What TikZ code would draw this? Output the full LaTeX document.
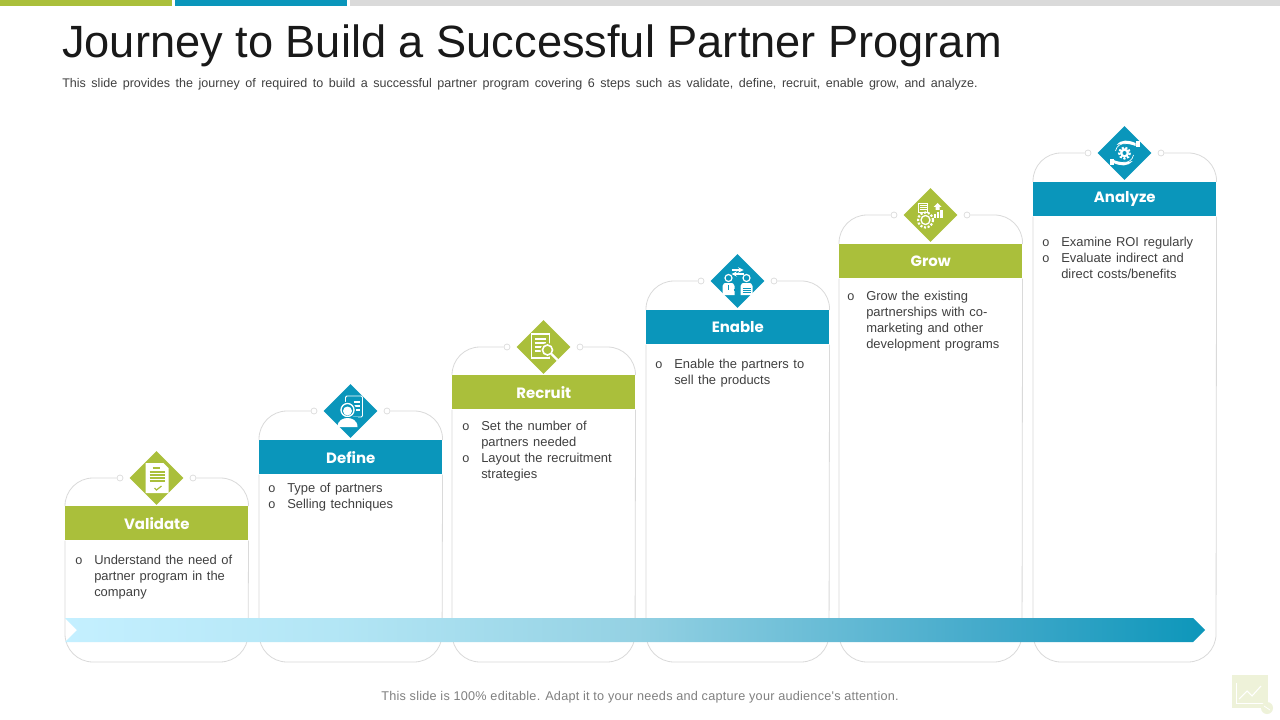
\documentclass[tikz,border=0pt]{standalone}
\usepackage{fontspec}
\setmainfont{Liberation Sans}
\newfontfamily\labelfont{Poppins}
\newfontfamily\bodyfont[WordSpace=1.25]{Liberation Sans}
\newfontfamily\footfont[LetterSpace=1.9]{Liberation Sans}
\usetikzlibrary{shapes.geometric,calc}
\definecolor{pgreen}{HTML}{AABF3B}
\definecolor{pblue}{HTML}{0A96BB}
\definecolor{cardgray}{HTML}{DADADA}
\definecolor{bodytext}{HTML}{404040}
\definecolor{logotint}{HTML}{EEF2D9}
\pgfdeclarehorizontalshading{flowband}{100bp}{rgb(0bp)=(0.77,0.94,1);rgb(25bp)=(0.77,0.94,1);rgb(37bp)=(0.70,0.90,0.96);rgb(50bp)=(0.58,0.82,0.89);rgb(66bp)=(0.25,0.66,0.79);rgb(75bp)=(0.05,0.59,0.73);rgb(100bp)=(0.05,0.59,0.73)}
\tikzset{
  x=0.75pt,y=-0.75pt,
  header/.style={minimum width=137.25pt,minimum height=25.5pt,inner sep=0pt,text=white,font=\labelfont\bfseries\fontsize{11.2}{14}\selectfont},
  badge/.style={diamond,aspect=1,minimum width=40.5pt,minimum height=40.5pt,inner sep=0pt},
  knob/.style={circle,draw=cardgray,fill=white,line width=0.5pt,minimum size=4.5pt,inner sep=0pt},
  cardline/.style={draw=cardgray,line width=0.6pt,rounded corners=21pt},
  bodytxt/.style={anchor=north west,inner sep=0pt,align=left,text=bodytext,font=\bodyfont\fontsize{9.7}{12}\selectfont},
  bulletmark/.style={anchor=center,inner sep=0pt,text=bodytext,font=\fontsize{9.5}{12}\selectfont},
  ico/.style={fill=white,draw=none},
}
\newcommand{\pcard}[6]{% id, left, header top, colour, label, badge y
  \node[header,fill=#4,anchor=north west] (h#1) at (#2,#3) {#5};
  \node[badge,fill=#4] (d#1) at (#2+91.5,#6) {};
  \node[knob] (kl#1) at (#2+55,#6) {};
  \node[knob] (kr#1) at (#2+128,#6) {};
  \coordinate (bl#1) at (#2,662);
  \coordinate (br#1) at (#2+183,662);
  \draw[cardline] (h#1.north west) |- (kl#1.west);
  \draw[cardline] (h#1.north east) |- (kr#1.east);
  \draw[cardline] (h#1.south west) -- (bl#1) -- (br#1) -- (h#1.south east);
}
\begin{document}
\begin{tikzpicture}
\useasboundingbox (0,0) rectangle (1280,720);
\fill[white] (0,0) rectangle (1280,720);
% top bars
\fill[pgreen] (0,0) rectangle (172,6);
\fill[pblue] (175,0) rectangle (347,6);
\fill[cardgray] (350,0) rectangle (1280,6);
% title
\node[anchor=base west,inner sep=0pt,text=black!90,font=\fontsize{33.9}{38}\selectfont] (title) at (62,58) {Journey to Build a Successful Partner Program};
\node[anchor=base west,inner sep=0pt,text=bodytext,font=\fontsize{9.4}{11}\selectfont] (sub) at (62,88) {\spaceskip=4.16pt This slide provides the journey of required to build a successful partner program covering 6 steps such as validate, define, recruit, enable grow, and analyze.};
% cards
\pcard{1}{65}{506}{pgreen}{Validate}{478}
\pcard{2}{259}{440}{pblue}{Define}{411}
\pcard{3}{452}{375}{pgreen}{Recruit}{347}
\pcard{4}{646}{310}{pblue}{Enable}{281}
\pcard{5}{839}{244}{pgreen}{Grow}{215}
\pcard{6}{1033}{182}{pblue}{Analyze}{153}
% flow arrow
\shade[shading=flowband] (65,618) -- (1193,618) -- (1205,630) -- (1193,642) -- (65,642) -- (77,630) -- cycle;
% body texts
\node[bulletmark] (b1) at (79,561) {o};
\node[bodytxt] (t1) at (94,555) {Understand the need of\\partner program in the\\company};
\node[bulletmark] (b2a) at (272,489) {o};
\node[bodytxt] (t2a) at (287,483) {Type of partners};
\node[bulletmark] (b2b) at (272,505) {o};
\node[bodytxt] (t2b) at (287,499) {Selling techniques};
\node[bulletmark] (b3a) at (466,427) {o};
\node[bodytxt] (t3a) at (481,421) {Set the number of\\partners needed};
\node[bulletmark] (b3b) at (466,459) {o};
\node[bodytxt] (t3b) at (481,453) {Layout the recruitment\\strategies};
\node[bulletmark] (b4) at (659,365) {o};
\node[bodytxt] (t4) at (674,359) {Enable the partners to\\sell the products};
\node[bulletmark] (b5) at (851,297) {o};
\node[bodytxt] (t5) at (866,291) {Grow the existing\\partnerships with co-\\marketing and other\\development programs};
\node[bulletmark] (b6a) at (1046,243) {o};
\node[bodytxt] (t6a) at (1061,237) {Examine ROI regularly};
\node[bulletmark] (b6b) at (1046,259) {o};
\node[bodytxt] (t6b) at (1061,253) {Evaluate indirect and\\direct costs/benefits};
% footer
\node[text=black!50,inner sep=0pt,font=\footfont\fontsize{9.5}{11}\selectfont] (foot) at (640,697.5) {This slide is 100\% editable. Adapt it to your needs and capture your audience's attention.};
% icon 1: document
\begin{scope}[shift={(d1.center)}]
  \fill[ico] (-11,-15) -- (7,-15) -- (12,-10) -- (12,15) -- (-11,15) -- cycle;
  \foreach \yy in {-6,-3,0,3} \draw[pgreen,line width=0.8pt] (-7,\yy) -- (8,\yy);
  \draw[pgreen,line width=0.8pt] (-4,-10) -- (3,-10);
  \draw[pgreen,line width=0.9pt] (-2,10) -- (0,12) -- (5,8);
\end{scope}
% icon 2: person with clipboard
\begin{scope}[shift={(d2.center)}]
  \draw[white,line width=0.7pt,rounded corners=1pt] (-5,-15) rectangle (12,6);
  \foreach \yy in {-9,-5,-1} \draw[white,line width=0.8pt] (3,\yy) -- (9,\yy);
  \fill[pblue] (-3,-1) circle (8.5);
  \draw[white,line width=1pt] (-3,-1) circle (6.5);
  \fill[ico] (-3,0) circle (4.5);
  \fill[pblue] (-13,6) rectangle (7,8);
  \fill[ico] (-13,16) .. controls (-13,9) and (-7,7) .. (-3,7) .. controls (1,7) and (7,9) .. (7,16) -- cycle;
\end{scope}
% icon 3: document with magnifier
\begin{scope}[shift={(d3.center)}]
  \draw[white,line width=0.8pt] (-12,-13) rectangle (6,11);
  \foreach \yy in {-8,-4,0,4} \draw[white,line width=0.8pt] (-9,\yy) -- (2,\yy);
  \fill[pgreen] (4,3) circle (7);
  \draw[white,line width=1.2pt] (4,3) circle (5);
  \draw[white,line width=1.8pt] (8,7) -- (14,13);
\end{scope}
% icon 4: two people exchanging
\begin{scope}[shift={(d4.center)}]
  \draw[white,line width=0.8pt,->,>=stealth] (-6,-11) -- (6,-11);
  \draw[white,line width=0.8pt,<-,>=stealth] (-6,-7) -- (6,-7);
  \draw[white,line width=0.9pt] (-9,-3) circle (3.5);
  \draw[white,line width=0.9pt] (9,-3) circle (3.5);
  \fill[ico] (-15,14) -- (-15,5) .. controls (-15,2) and (-13,2) .. (-9,2) .. controls (-5,2) and (-3,2) .. (-3,5) -- (-3,14) -- cycle;
  \fill[ico] (3,14) -- (3,5) .. controls (3,2) and (5,2) .. (9,2) .. controls (13,2) and (15,2) .. (15,5) -- (15,14) -- cycle;
  \draw[pblue,line width=0.8pt] (-9,4) -- (-9,9);
  \draw[pblue,line width=0.8pt] (-4,9) -- (-1,9);
  \foreach \yy in {7,9,11} \draw[pblue,line width=0.6pt] (5,\yy) -- (13,\yy);
\end{scope}
% icon 5: gear, list, growth bars
\begin{scope}[shift={(d5.center)}]
  \draw[white,line width=0.7pt] (-12,-12) rectangle (-3,-3);
  \foreach \yy in {-10,-8,-6} \draw[white,line width=0.5pt] (-11,\yy) -- (-4,\yy);
  \draw[white,line width=1.6pt,dash pattern=on 1.6pt off 1.2pt] (-5,5) circle (7.5);
  \draw[white,line width=1pt] (-5,5) circle (4.5);
  \fill[ico] (3,-1) rectangle (5,3);
  \fill[ico] (6,-3) rectangle (8,3);
  \fill[ico] (9,-5) rectangle (12,3);
  \fill[ico] (7,-12) -- (11,-8) -- (9,-8) -- (9,-5) -- (5,-5) -- (5,-8) -- (3,-8) -- cycle;
\end{scope}
% icon 6: hands and gear
\begin{scope}[shift={(d6.center)}]
  \draw[white,line width=1.6pt,dash pattern=on 1.6pt off 1.2pt] (0,0) circle (5.5);
  \fill[ico] (0,0) circle (4.5);
  \fill[pblue] (0,0) circle (2);
  \draw[white,line width=0.5pt] (-9,-2) arc[start angle=190,end angle=280,radius=9];
  \draw[white,line width=0.5pt] (9,2) arc[start angle=10,end angle=100,radius=9];
  \fill[ico] (-8,-8) .. controls (-3,-14) and (4,-13) .. (11,-10) -- (11,-7) .. controls (3,-10) and (-3,-10) .. (-8,-8) -- cycle;
  \fill[ico] (11,-12) rectangle (15,-6);
  \fill[ico] (8,8) .. controls (3,14) and (-4,13) .. (-11,10) -- (-11,7) .. controls (-3,10) and (3,10) .. (8,8) -- cycle;
  \fill[ico] (-15,6) rectangle (-11,12);
\end{scope}
% logo mark
\fill[logotint] (1232,675) rectangle (1268,708);
\draw[white,line width=0.6pt] (1236,683) -- (1236,703) -- (1264,703);
\draw[white,line width=0.8pt] (1239,699) -- (1247,691) -- (1252,696) -- (1261,686);
\fill[logotint] (1267,708) circle (6);
\draw[white,line width=0.6pt] (1264,706) -- (1270,710);
\end{tikzpicture}
\end{document}
